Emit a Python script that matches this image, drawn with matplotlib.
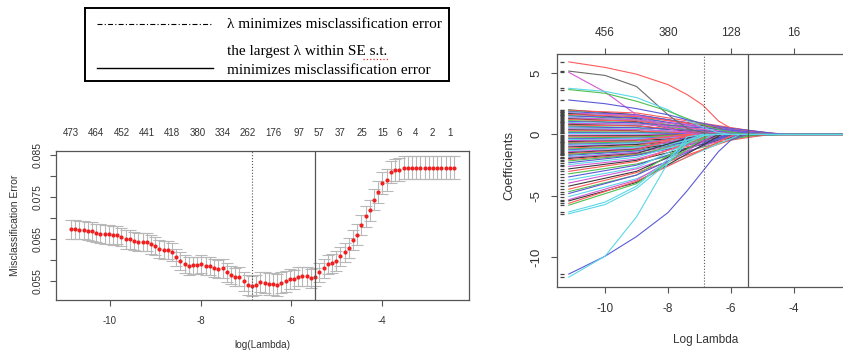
import numpy as np
import matplotlib
matplotlib.use('Agg')
import matplotlib.pyplot as plt

plt.rcParams['font.family'] = ['Liberation Sans', 'DejaVu Sans']

# ---- left panel: cv misclassification error ----
log_lambda = np.linspace(-10.86, -2.41, 92)
cv_err = [0.06730, 0.06730, 0.06714, 0.06714, 0.06698, 0.06683, 0.06651, 0.06627, 0.06611, 0.06611,
          0.06587, 0.06603, 0.06556, 0.06492, 0.06492, 0.06452, 0.06437, 0.06437, 0.06437, 0.06373,
          0.06333, 0.06262, 0.06246, 0.06238, 0.06198, 0.06064, 0.05976, 0.05905, 0.05857, 0.05873,
          0.05873, 0.05905, 0.05857, 0.05857, 0.05802, 0.05794, 0.05802, 0.05706, 0.05651, 0.05595,
          0.05603, 0.05492, 0.05405, 0.05389, 0.05405, 0.05476, 0.05460, 0.05429, 0.05437, 0.05413,
          0.05460, 0.05492, 0.05548, 0.05548, 0.05603, 0.05611, 0.05611, 0.05563, 0.05603,
          0.05714, 0.05802, 0.05897, 0.05921, 0.05980, 0.06087, 0.06183, 0.06286, 0.06484, 0.06607,
          0.06837, 0.07048, 0.07183, 0.07437, 0.07627, 0.07841, 0.07913, 0.08103, 0.08143, 0.08159,
          0.08206, 0.08206, 0.08206, 0.08206, 0.08206, 0.08206, 0.08206, 0.08206, 0.08206, 0.08206,
          0.08206, 0.08206, 0.08206]
cv_se = [0.00215, 0.00215, 0.00218, 0.00218, 0.00220, 0.00220, 0.00220, 0.00222, 0.00222, 0.00222,
         0.00222, 0.00222, 0.00220, 0.00220, 0.00220, 0.00218, 0.00218, 0.00218, 0.00218, 0.00216,
         0.00216, 0.00215, 0.00215, 0.00215, 0.00214, 0.00213, 0.00212, 0.00212, 0.00212, 0.00212,
         0.00212, 0.00212, 0.00212, 0.00212, 0.00214, 0.00215, 0.00216, 0.00218, 0.00220, 0.00222,
         0.00224, 0.00228, 0.00230, 0.00232, 0.00236, 0.00245, 0.00255, 0.00262, 0.00265, 0.00262,
         0.00255, 0.00245, 0.00235, 0.00228, 0.00222, 0.00220, 0.00218, 0.00218, 0.00220,
         0.00226, 0.00228, 0.00230, 0.00230, 0.00232, 0.00234, 0.00236, 0.00238, 0.00240, 0.00242,
         0.00245, 0.00248, 0.00250, 0.00252, 0.00255, 0.00258, 0.00260, 0.00262, 0.00264, 0.00265,
         0.00266, 0.00266, 0.00266, 0.00266, 0.00266, 0.00266, 0.00266, 0.00266, 0.00266, 0.00266,
         0.00266, 0.00266, 0.00266]
nz_pos = [-10.86, -10.30, -9.74, -9.19, -8.63, -8.07, -7.52, -6.96, -6.40, -5.84,
          -5.38, -4.92, -4.45, -3.99, -3.62, -3.25, -2.88, -2.51]
nz_lab = ['473', '464', '452', '441', '418', '380', '334', '262', '176', '97',
          '57', '37', '25', '15', '6', '4', '2', '1']
lam_min = -6.87
lam_1se = -5.47

# ---- right panel: coefficient paths ----
x_start, x_knee, x_end = -11.15, -9.0, -2.41
band_start = [2.0, 1.95, 1.9, 1.85, 1.8, 1.75, 1.7, 1.62, 1.55, 1.5, 1.42, 1.35, 1.28, 1.2, 1.12,
              1.05, 0.98, 0.9, 0.82, 0.75, 0.68, 0.6, 0.52, 0.45, 0.38, 0.3, 0.22, 0.15, 0.08,
              -0.05, -0.12, -0.2, -0.28, -0.35, -0.42, -0.5, -0.58, -0.65, -0.72, -0.8, -0.88, -0.95,
              -1.02, -1.1, -1.18, -1.25, -1.32, -1.4, -1.48, -1.55, -1.62, -1.7, -1.8, -1.88, -1.95,
              -2.05, -2.15, -2.3, -2.45,
              -2.6, -2.8, -3.0, -3.2, -3.45, -3.7, -3.95, -4.2, -4.45, -4.65, -4.8, -5.05, -5.3,
              -5.4, -5.6, -5.75]
band_knee = [1.6, 1.75, 1.5, 1.6, 1.4, 1.55, 1.3, 1.45, 1.2, 1.35, 1.15, 1.2, 1.05, 1.1, 0.95,
             0.95, 0.8, 0.85, 0.7, 0.7, 0.55, 0.55, 0.45, 0.4, 0.3, 0.28, 0.18, 0.13, 0.06,
             -0.04, -0.1, -0.16, -0.22, -0.3, -0.35, -0.42, -0.5, -0.52, -0.6, -0.68, -0.72, -0.8,
             -0.82, -0.92, -0.95, -1.05, -1.05, -1.15, -1.2, -1.25, -1.3, -1.35, -1.45, -1.45, -1.55,
             -1.6, -1.65, -1.7, -1.85,
             -2.0, -2.1, -2.2, -2.4, -2.5, -2.7, -2.8, -3.0, -3.1, -3.3, -3.3, -3.6, -3.7,
             -3.9, -3.8, -4.0]
band_zero = [-5.2, -4.6, -6.3, -4.9, -6.8, -5.5, -7.2, -4.4, -6.0, -5.3, -6.6, -4.8, -7.0, -5.7, -6.2,
             -4.3, -7.4, -5.0, -6.5, -5.8, -7.6, -4.5, -6.9, -5.4, -7.8, -6.1, -7.0, -5.6, -8.0,
             -7.9, -6.4, -5.1, -7.3, -5.9, -4.7, -6.7, -5.2, -7.5, -4.4, -6.1, -5.6, -6.9,
             -4.9, -7.1, -5.3, -6.3, -4.6, -6.8, -5.8, -7.3, -5.0, -6.0, -6.6, -5.5, -7.0,
             -4.8, -6.2, -5.7, -6.5,
             -6.2, -5.6, -6.6, -5.3, -6.0, -6.8, -5.8, -6.4, -5.5, -6.9, -6.1, -5.7, -6.5,
             -6.3, -5.9, -6.7]

big_x = [-11.15, -10.0, -9.0, -8.0, -7.4, -6.9, -6.4, -6.0, -5.5, -5.0, -4.5, -4.0, -2.41]
red_path = [5.9, 5.45, 4.9, 4.05, 3.25, 2.4, 1.1, 0.5, 0.32, 0.18, 0.07, 0, 0]
gray_path = [5.15, 4.8, 3.9, 1.6, 0.5, 0.15, 0, 0, 0, 0, 0, 0, 0]
magenta_path = [5.05, 3.45, 1.6, 0.5, 0.1, 0, 0, 0, 0, 0, 0, 0, 0]
cyan_top_path = [3.75, 3.5, 3.0, 2.0, 1.15, 0.6, 0.15, 0, 0, 0, 0, 0, 0]
green_path = [3.65, 3.35, 2.7, 1.9, 1.3, 0.8, 0.4, 0.2, 0, 0, 0, 0, 0]
slate_path = [2.8, 2.5, 2.1, 1.6, 1.2, 0.9, 0.65, 0.5, 0.35, 0.2, 0.05, 0, 0]
blue_low_path = [-11.35, -9.9, -8.3, -6.35, -4.6, -3.0, -1.4, -0.45, 0, 0, 0, 0, 0]
cyan_mid1_path = [-6.3, -5.5, -4.2, -2.0, -0.5, 0, 0, 0, 0, 0, 0, 0, 0]
cyan_mid2_path = [-6.45, -5.7, -4.4, -2.3, -0.7, -0.1, 0, 0, 0, 0, 0, 0, 0]
cyan_low_path = [-11.6, -9.9, -6.7, -2.3, -0.2, 0, 0, 0, 0, 0, 0, 0, 0]
coef_ticks = [-10, -8, -6, -4]
df_lab = ['456', '380', '128', '16']

palette = ['#3a3a3a', '#ff5a5a', '#4fc04f', '#5a5ad8', '#5ad8e8', '#d45ad4']
AX = '#555555'

W, H = 843, 352
fig = plt.figure(figsize=(W / 100, H / 100), dpi=100)


def box(l, t, r, b):
    return [l / W, 1 - b / H, (r - l) / W, (b - t) / H]


def r_style(ax, fs_x, fs_y, xpad, ypad):
    for s in ax.spines.values():
        s.set_color(AX)
        s.set_linewidth(0.9)
    ax.tick_params(direction='out', length=4.5, width=0.8, color=AX, labelcolor='#333333')
    ax.tick_params(axis='x', labelsize=fs_x, pad=xpad)
    ax.tick_params(axis='y', labelsize=fs_y, pad=ypad)


# left
ax1 = fig.add_axes(box(56, 151, 469, 300))
ax1.errorbar(log_lambda, cv_err, yerr=cv_se, fmt='none', ecolor='#b8b8b8',
             elinewidth=0.8, capsize=4.5, capthick=0.8)
ax1.plot(log_lambda, cv_err, 'o', ms=3.0, color='#f02020', mec='none')
ax1.axvline(lam_min, ls=':', color=AX, lw=0.8)
ax1.axvline(lam_1se, color=AX, lw=0.9)
ax1.set_xlim(-11.19, -2.08)
ax1.set_ylim(0.0505, 0.086)
ax1.set_xticks(coef_ticks)
ax1.set_xticklabels([str(t) for t in coef_ticks])
ax1.set_yticks([0.055, 0.060, 0.065, 0.070, 0.075, 0.080, 0.085])
ax1.set_yticklabels(['0.055', '', '0.065', '', '0.075', '', '0.085'], rotation=90, va='center')
r_style(ax1, 7, 7.5, 7, 5)
top1 = ax1.twiny()
top1.set_xlim(ax1.get_xlim())
top1.set_xticks(nz_pos)
top1.set_xticklabels(nz_lab)
top1.tick_params(axis='x', length=0, pad=9.5, labelsize=7, labelcolor='#333333')
for s in top1.spines.values():
    s.set_visible(False)
fig.text(262 / W, 1 - 345 / H, 'log(Lambda)', ha='center', va='center', fontsize=7.2, color='#333333')
fig.text(15 / W, 1 - 225 / H, 'Misclassification Error', ha='center', va='center',
         rotation=90, fontsize=7.5, color='#333333')

# right
ax2 = fig.add_axes(box(557, 54, 850, 287))
for i, (s, k, z) in enumerate(zip(band_start, band_knee, band_zero)):
    ax2.plot([x_start, x_knee, z, x_end], [s, k, 0, 0], color=palette[i % 6], lw=0.8)
big_paths = [(red_path, palette[1]), (gray_path, '#6a6a6a'), (magenta_path, palette[5]),
             (cyan_top_path, palette[4]), (green_path, palette[2]), (slate_path, palette[3]),
             (blue_low_path, palette[3]), (cyan_mid1_path, palette[4]),
             (cyan_mid2_path, palette[4]), (cyan_low_path, palette[4])]
for path, col in big_paths:
    ax2.plot(big_x, path, color=col, lw=0.8)
starts = list(band_start) + [p[0] for p, c in big_paths]
ax2.plot([-11.38] * len(starts), starts, ls='none', marker='_', ms=3.5, mew=0.9, color='#444444')
ax2.axvline(lam_min, ls=':', color=AX, lw=0.8)
ax2.axvline(lam_1se, color=AX, lw=0.9)
ax2.set_xlim(-11.524, -2.222)
ax2.set_ylim(-12.4, 6.54)
ax2.set_xticks(coef_ticks)
ax2.set_xticklabels([str(t) for t in coef_ticks])
ax2.set_yticks([-10, -5, 0, 5])
ax2.set_yticklabels(['-10', '-5', '0', '5'], rotation=90, va='center')
r_style(ax2, 8.5, 9.5, 7, 6)
ax2.spines['right'].set_visible(False)
top2 = ax2.twiny()
top2.set_xlim(ax2.get_xlim())
top2.set_xticks(coef_ticks)
top2.set_xticklabels(df_lab)
top2.tick_params(axis='x', direction='out', length=4.5, width=0.8, color=AX, pad=6,
                 labelsize=8.5, labelcolor='#333333')
for s in top2.spines.values():
    s.set_visible(False)
fig.text(706 / W, 1 - 340 / H, 'Log Lambda', ha='center', va='center', fontsize=8.5, color='#333333')
fig.text(509 / W, 1 - 165 / H, 'Coefficients', ha='center', va='center',
         rotation=90, fontsize=9.5, color='#333333')

# legend box (pixel coordinates)
lg = fig.add_axes(box(85, 8, 449, 81))
lg.set_xlim(85, 449)
lg.set_ylim(81, 8)
lg.set_xticks([])
lg.set_yticks([])
for s in lg.spines.values():
    s.set_linewidth(1.4)
    s.set_color('black')
lg.plot([97, 213], [24, 24], color='black', lw=0.8, dashes=(4.5, 2, 1, 2))
lg.plot([97, 213], [68, 68], color='black', lw=1.0)
serif = ['Liberation Serif', 'DejaVu Serif']
lg.text(227, 25, 'λ minimizes misclassification error', family=serif, fontsize=11, va='center')
lg.text(227, 52, 'the largest λ within SE s.t.', family=serif, fontsize=11, va='center')
lg.text(227, 70, 'minimizes misclassification error', family=serif, fontsize=11, va='center')
lg.plot([363, 388], [58.5, 58.5], color='#e03030', lw=0.9, ls=':')

fig.savefig('out.png', dpi=100)
